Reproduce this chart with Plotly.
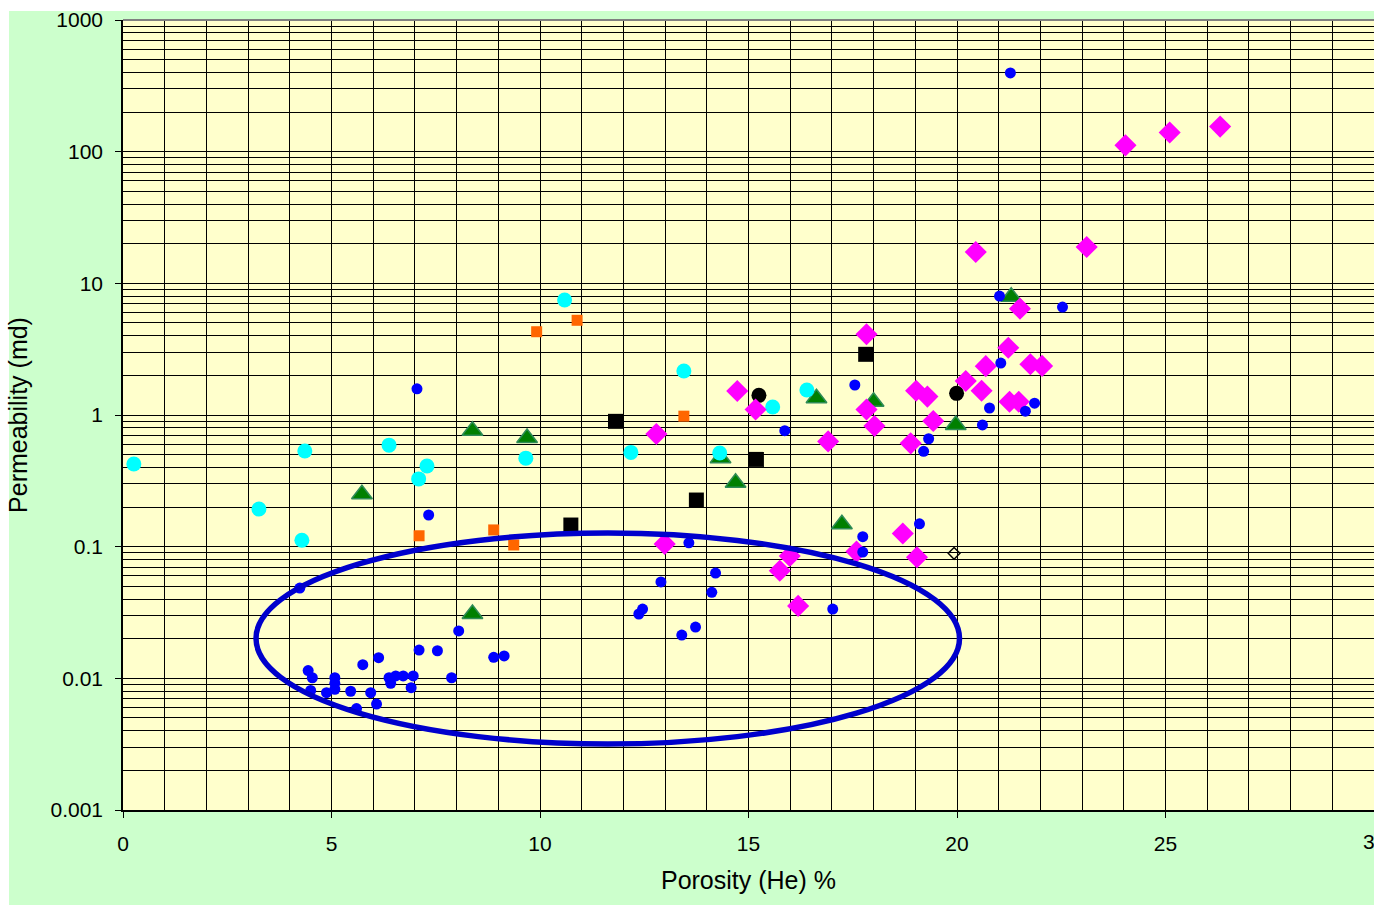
import plotly.graph_objects as go

# ---------------- data (porosity %, permeability md) ----------------
blue_x = [21.28, 21.02, 22.53, 21.05, 17.55, 7.05, 20.78, 21.86, 21.64, 20.61,
          19.32, 19.20, 15.87, 7.33, 19.10, 17.74, 17.74, 13.57, 4.24, 12.90,
          14.21, 14.12, 12.46, 12.37, 17.02, 13.73, 13.40, 8.05,
          4.44, 4.54, 4.50, 4.88, 5.08, 5.08, 5.08, 5.46, 5.60, 5.75, 5.94,
          6.08, 6.13, 6.38, 6.42, 6.54, 6.72, 6.96, 6.91, 7.10, 7.54, 7.88,
          8.89, 9.14]
blue_y = [396, 8.0, 6.6, 2.48, 1.69, 1.58, 1.13, 1.23, 1.07, 0.84,
          0.66, 0.53, 0.76, 0.174, 0.149, 0.119, 0.091, 0.107, 0.0485, 0.054,
          0.063, 0.045, 0.0336, 0.0308, 0.0336, 0.0245, 0.0213, 0.0229,
          0.01146, 0.0101, 0.0081, 0.00778, 0.0101, 0.00917, 0.00826, 0.00798,
          0.00589, 0.0127, 0.00778, 0.00638, 0.01436, 0.0101, 0.00917, 0.01042,
          0.01042, 0.01042, 0.0085, 0.0164, 0.0162, 0.0101, 0.01445, 0.0148]

cyan_x = [0.26, 3.26, 4.36, 4.29, 6.38, 7.09, 7.29, 9.66, 10.59, 12.18,
          13.45, 14.31, 15.58, 16.40]
cyan_y = [0.425, 0.193, 0.533, 0.112, 0.59, 0.327, 0.41, 0.47, 7.47, 0.52,
          2.16, 0.514, 1.15, 1.55]

orange_x = [9.92, 7.10, 8.89, 9.37, 10.89, 13.45]
orange_y = [4.29, 0.121, 0.134, 0.103, 5.24, 0.98]

green_x = [5.73, 8.38, 9.69, 8.38, 21.30, 16.63, 18.00, 19.97, 14.33, 14.69, 17.24]
green_y = [0.25, 0.76, 0.668, 0.0308, 7.9, 1.34, 1.26, 0.84, 0.469, 0.306, 0.148]

blacksq_x = [17.81, 11.81, 15.19, 13.75, 10.74]
blacksq_y = [2.89, 0.895, 0.46, 0.226, 0.146]

blackdot_x = [15.25, 19.99]
blackdot_y = [1.41, 1.46]

magenta_x = [24.04, 25.10, 26.31, 23.11, 20.45, 21.51, 17.83, 21.23, 20.69, 21.76,
             22.04, 20.21, 20.59, 19.02, 19.29, 21.26, 21.48, 14.73, 15.17, 17.83,
             19.43, 18.02, 12.79, 16.91, 18.89, 18.70, 12.99, 17.59, 19.04, 15.99,
             15.75, 16.19]
magenta_y = [111.7, 140, 155, 18.9, 17.3, 6.42, 4.1, 3.24, 2.35, 2.43,
             2.36, 1.81, 1.53, 1.53, 1.38, 1.26, 1.26, 1.52, 1.10, 1.10,
             0.90, 0.824, 0.718, 0.63, 0.609, 0.126, 0.105, 0.0917, 0.083, 0.085,
             0.0656, 0.0355]

open_x = [19.93]
open_y = [0.089]

# ellipse bounds (porosity, permeability)
ell_x = [3.19, 20.06]
ell_y = [0.00317, 0.127]

y_tickvals = [0.001, 0.01, 0.1, 1, 10, 100, 1000]
y_ticktext = ["0.001", "0.01", "0.1", "1", "10", "100", "1000"]
x_tickvals = [0, 5, 10, 15, 20, 25]
x_ticktext = ["0", "5", "10", "15", "20", "25"]
x_edge_val = 30
x_edge_text = "30"

FONT = "Liberation Sans, Arial, sans-serif"

fig = go.Figure()

def add(x, y, symbol, size, color, line_color=None, line_width=0):
    fig.add_trace(go.Scatter(
        x=x, y=y, mode="markers", showlegend=False, hoverinfo="x+y",
        marker=dict(symbol=symbol, size=size, color=color,
                    line=dict(color=line_color or color, width=line_width))))

add(blacksq_x, blacksq_y, "square", 15, "#000000")
add(blackdot_x, blackdot_y, "circle", 15, "#000000")
add(green_x, green_y, "triangle-up", 18, "#008000", "#2E8B57", 1.5)
add(cyan_x, cyan_y, "circle", 15, "#00FFFF")
add(magenta_x, magenta_y, "diamond", 17, "#FF00FF")
add(blue_x, blue_y, "circle", 11, "#0000FF")
add(orange_x, orange_y, "square", 11, "#FF6600")
add(open_x, open_y, "diamond-open", 9, "#000000", "#000000", 1.5)

fig.update_layout(
    width=1374, height=906,
    margin=dict(l=123, r=0, t=20, b=96),
    paper_bgcolor="#FFFFFF",
    plot_bgcolor="#FFFFCC",
    font=dict(family=FONT, size=20, color="#000000"),
    showlegend=False,
    shapes=[
        dict(type="rect", xref="paper", yref="paper", x0=-0.0911, x1=1.01,
             y0=-0.1203, y1=1.0114, fillcolor="#CCFFCC", line=dict(width=0),
             layer="below"),
        dict(type="rect", xref="paper", yref="paper", x0=0, x1=1.01,
             y0=0, y1=1, fillcolor="#FFFFCC", line=dict(width=0),
             layer="below"),
        dict(type="line", xref="paper", yref="paper", x0=0, x1=1.01,
             y0=1, y1=1, line=dict(color="#808080", width=2)),
        dict(type="circle", xref="x", yref="y", x0=ell_x[0], x1=ell_x[1],
             y0=ell_y[0], y1=ell_y[1], line=dict(color="#0000CC", width=5.5)),
    ],
    annotations=[
        dict(x=x_edge_val, xref="x", y=0, yref="paper", text=x_edge_text,
             showarrow=False, yanchor="top", xanchor="center", yshift=-18,
             font=dict(size=21, family=FONT, color="#000000")),
    ],
)

fig.update_xaxes(
    range=[0, 30], tickvals=x_tickvals, ticktext=x_ticktext,
    showgrid=True, gridcolor="#000000", gridwidth=1,
    zeroline=False, showline=True, linecolor="#000000", linewidth=1.5,
    ticks="outside", ticklen=6, tickcolor="#000000", tickwidth=1,
    tickfont=dict(size=21), ticklabelstandoff=8,
    minor=dict(dtick=1, showgrid=True, gridcolor="#000000", gridwidth=1, ticks=""),
    title=dict(text="Porosity (He) %", font=dict(size=25), standoff=18),
)
fig.update_yaxes(
    type="log", range=[-3, 3], tickvals=y_tickvals, ticktext=y_ticktext,
    showgrid=True, gridcolor="#000000", gridwidth=1,
    zeroline=False, showline=True, linecolor="#000000", linewidth=1.5,
    ticks="outside", ticklen=6, tickcolor="#000000", tickwidth=1,
    tickfont=dict(size=21), ticklabelstandoff=8,
    minor=dict(dtick="D1", showgrid=True, gridcolor="#000000", gridwidth=1, ticks=""),
    title=dict(text="Permeability (md)", font=dict(size=25), standoff=16),
)

fig.write_html("out.html", config={"displayModeBar": False},
               post_script="document.body.style.margin='0';document.body.style.overflow='hidden';")
